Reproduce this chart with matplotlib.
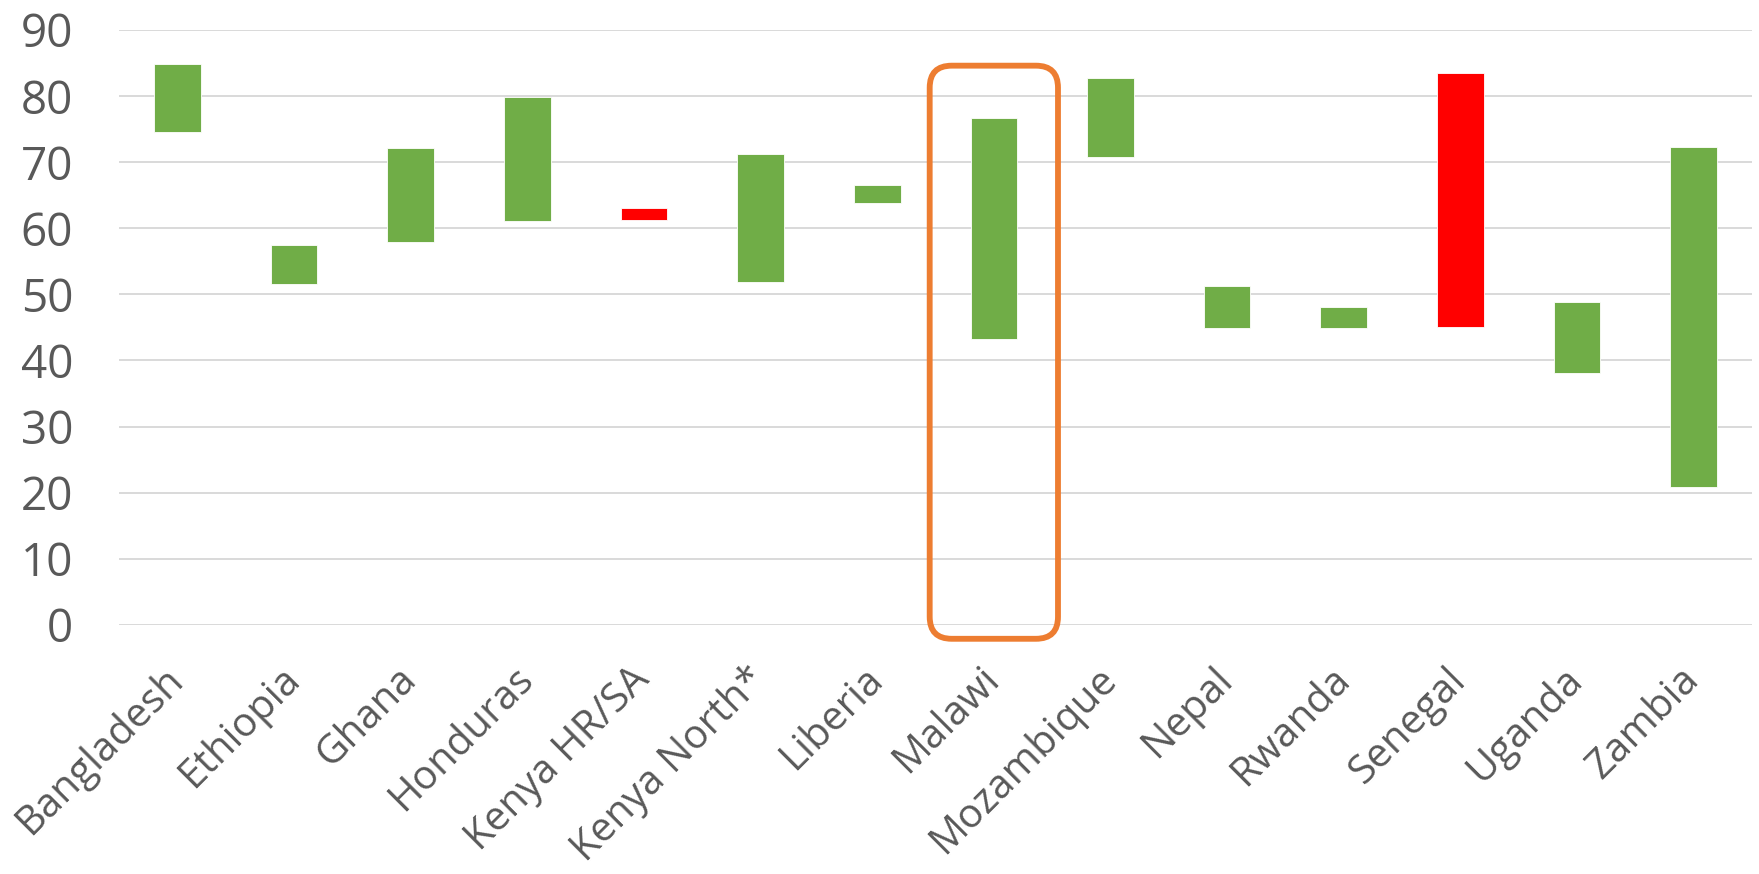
import matplotlib
matplotlib.use("Agg")
import matplotlib.pyplot as plt
from matplotlib.patches import FancyBboxPatch
from matplotlib.transforms import IdentityTransform

# Country programmes and their start / end values (percent)
countries = ["Bangladesh", "Ethiopia", "Ghana", "Honduras", "Kenya HR/SA",
             "Kenya North*", "Liberia", "Malawi", "Mozambique", "Nepal",
             "Rwanda", "Senegal", "Uganda", "Zambia"]
start_values = [74.6, 51.5, 58.0, 61.1, 63.1, 51.9, 63.8, 43.3, 70.8, 44.9,
                44.9, 83.5, 38.1, 20.9]
end_values = [84.8, 57.4, 72.2, 79.8, 61.3, 71.3, 66.6, 76.7, 82.8, 51.3,
              48.1, 45.0, 48.85, 72.3]
y_ticks = [0, 10, 20, 30, 40, 50, 60, 70, 80, 90]
highlight = "Malawi"

GREEN = "#70AD47"
RED = "#FF0000"
TEXT = "#595959"
GRID = "#D9D9D9"
ORANGE = "#ED7D31"

plt.rcParams["font.family"] = ["Open Sans", "DejaVu Sans"]

fig = plt.figure(figsize=(17.59, 8.74), dpi=100)
ax = fig.add_axes([0.0677, 0.285, 0.9283, 0.6807])

x = list(range(len(countries)))
lows = [min(s, e) for s, e in zip(start_values, end_values)]
spans = [abs(e - s) for s, e in zip(start_values, end_values)]
colors = [GREEN if e >= s else RED for s, e in zip(start_values, end_values)]

ax.bar(x, spans, bottom=lows, width=0.4, color=colors,
       edgecolor="white", linewidth=0.6, zorder=3)

ax.set_xlim(-0.5, len(countries) - 0.5)
ax.set_ylim(0, 90)
ax.set_yticks(y_ticks)
ax.set_yticklabels([str(t) for t in y_ticks], fontsize=33, color=TEXT)
ax.yaxis.grid(True, color=GRID, linewidth=1.4, zorder=0)
ax.set_axisbelow(True)
ax.tick_params(axis="y", length=0, pad=33)
ax.tick_params(axis="x", length=0, pad=35)

ax.set_xticks(x)
ax.set_xticklabels(countries, rotation=45, ha="right", va="center",
                   rotation_mode="anchor", fontsize=29, color=TEXT)
for lbl in ax.get_xticklabels():
    lbl.set_x(lbl.get_position()[0] - 0.08)

for side in ["top", "right", "left", "bottom"]:
    ax.spines[side].set_visible(False)

# Rounded frame around the highlighted programme, drawn in pixel space
i = countries.index(highlight)
(px0, py0) = ax.transData.transform((i - 0.55, -2.1))
(px1, py1) = ax.transData.transform((i + 0.55, 84.6))
frame = FancyBboxPatch((px0, py0), px1 - px0, py1 - py0,
                       boxstyle="round,pad=0,rounding_size=22",
                       transform=IdentityTransform(), fill=False,
                       edgecolor=ORANGE, linewidth=4.2, zorder=5)
fig.add_artist(frame)

fig.savefig("out.png", dpi=100, facecolor="white")
